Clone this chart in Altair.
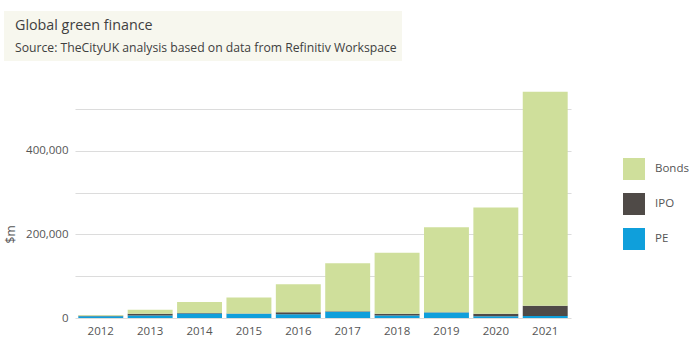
import altair as alt
import pandas as pd

years = ["2012", "2013", "2014", "2015", "2016", "2017", "2018", "2019", "2020", "2021"]
pe = [4000, 6000, 11000, 10000, 9000, 15000, 6000, 13000, 4000, 5000]
ipo = [1500, 4000, 1000, 1000, 5000, 1000, 4000, 1000, 6000, 24000]
bonds = [1500, 10000, 26000, 38000, 67000, 115000, 146000, 203000, 254000, 512000]

series = ["Bonds", "IPO", "PE"]
colors = ["#cfdf9b", "#4f4a47", "#0f9fdb"]
stack_order = {"PE": 0, "IPO": 1, "Bonds": 2}

title_text = "Global green finance"
subtitle_text = "Source: TheCityUK analysis based on data from Refinitiv Workspace"

rows = []
for i, y in enumerate(years):
    for name, vals in (("PE", pe), ("IPO", ipo), ("Bonds", bonds)):
        rows.append({"year": y, "series": name, "value": vals[i], "ord": stack_order[name]})
df = pd.DataFrame(rows)

FONT = "Open Sans"
TXT = "#555555"

bars = alt.Chart(df).mark_bar().encode(
    x=alt.X("year:N", sort=years,
            scale=alt.Scale(paddingInner=0.09, paddingOuter=0.067),
            axis=alt.Axis(title=None, labelAngle=0, ticks=False, domain=False,
                          labelPadding=7, labelFontSize=11.5, labelColor=TXT,
                          labelFont=FONT)),
    y=alt.Y("value:Q", stack="zero",
            scale=alt.Scale(domain=[0, 550000], nice=False),
            axis=alt.Axis(title="$m", values=[0, 100000, 200000, 300000, 400000, 500000],
                          labelExpr="datum.value % 200000 == 0 ? format(datum.value, ',') : ''",
                          ticks=False, domain=False, gridColor="#dcdcdc", gridWidth=1.2,
                          labelPadding=7, labelFontSize=11.5, labelColor=TXT,
                          labelFont=FONT, titleFont=FONT, titleFontSize=12,
                          titleFontWeight="normal", titleColor=TXT,
                          titleX=-65, titleY=146, titleAngle=270,
                          titleAlign="center", titleBaseline="middle")),
    color=alt.Color("series:N", sort=series,
                    scale=alt.Scale(domain=series, range=colors),
                    legend=alt.Legend(title=None, orient="none", legendX=548, legendY=70,
                                      symbolType="square", symbolSize=484,
                                      symbolStrokeWidth=0, rowPadding=13,
                                      labelFontSize=11.5, labelColor=TXT,
                                      labelFont=FONT, labelOffset=10)),
    order=alt.Order("ord:Q", sort="ascending"),
)

one = pd.DataFrame({"a": [0]})

box = alt.Chart(one).mark_rect(color="#f7f7ee").encode(
    x=alt.value(-71), x2=alt.value(327), y=alt.value(-77), y2=alt.value(-27)
)

title = alt.Chart(one).mark_text(
    align="left", baseline="alphabetic", font=FONT, fontSize=14.3, color="#404040"
).encode(x=alt.value(-60), y=alt.value(-58), text=alt.value(title_text))

subtitle = alt.Chart(one).mark_text(
    align="left", baseline="alphabetic", font=FONT, fontSize=12.2, color="#404040"
).encode(x=alt.value(-60), y=alt.value(-36), text=alt.value(subtitle_text))

chart = alt.layer(box, title, subtitle, bars).properties(
    width=496, height=230,
    padding={"left": 75, "top": 88, "right": 129, "bottom": 35},
    autosize=alt.AutoSizeParams(type="none"),
).configure_view(stroke=None)

chart.save("out.html", embed_options={"renderer": "svg", "actions": False})
